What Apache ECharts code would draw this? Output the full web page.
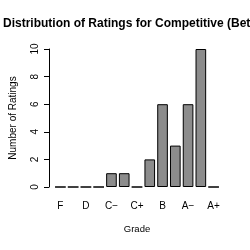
<!DOCTYPE html>
<html>
<head>
<meta charset="utf-8">
<script src="https://cdn.jsdelivr.net/npm/echarts@6/dist/echarts.min.js"></script>
<style>
  html, body { margin: 0; padding: 0; background: #fff; }
  #chart { width: 250px; height: 250px; }
</style>
</head>
<body>
<div id="chart"></div>
<script>
const grades = ['F', 'D−', 'D', 'D+', 'C−', 'C', 'C+', 'B−', 'B', 'B+', 'A−', 'A', 'A+'];
const counts = [0, 0, 0, 0, 1, 1, 0, 2, 6, 3, 6, 10, 0];
const yTicks = [0, 2, 4, 6, 8, 10];

const chart = echarts.init(document.getElementById('chart'));
const font = 'Liberation Sans, Arial, sans-serif';

chart.setOption({
  animation: false,
  title: {
    text: 'Distribution of Ratings for Competitive (Beta)',
    left: 3,
    top: 18,
    padding: 0,
    textStyle: { fontFamily: font, fontSize: 12, fontWeight: 'bold', color: '#000' },
  },
  grid: { left: 54, right: 30, top: 49, bottom: 63 },
  xAxis: {
    type: 'category',
    data: grades,
    name: 'Grade',
    nameLocation: 'middle',
    nameGap: 37,
    nameTextStyle: { fontFamily: font, fontSize: 9.5, color: '#000' },
    axisLine: { show: false },
    axisTick: { show: false },
    axisLabel: { interval: 1, margin: 14, fontFamily: font, fontSize: 10, color: '#000' },
  },
  yAxis: {
    type: 'value',
    min: yTicks[0],
    max: yTicks[yTicks.length - 1],
    interval: 2,
    offset: 5,
    name: 'Number of Ratings',
    nameLocation: 'middle',
    nameGap: 31,
    nameTextStyle: { fontFamily: font, fontSize: 10, color: '#000' },
    splitLine: { show: false },
    axisLine: { show: true, lineStyle: { color: '#000', width: 1 } },
    axisTick: { show: true, length: 5, lineStyle: { color: '#000' } },
    axisLabel: { rotate: 90, margin: 9, fontFamily: font, fontSize: 10, color: '#000' },
  },
  series: [{
    type: 'bar',
    data: counts,
    barCategoryGap: '16.7%',
    itemStyle: { color: '#8c8c8c', borderColor: '#000', borderWidth: 1 },
  }],
});
</script>
</body>
</html>
